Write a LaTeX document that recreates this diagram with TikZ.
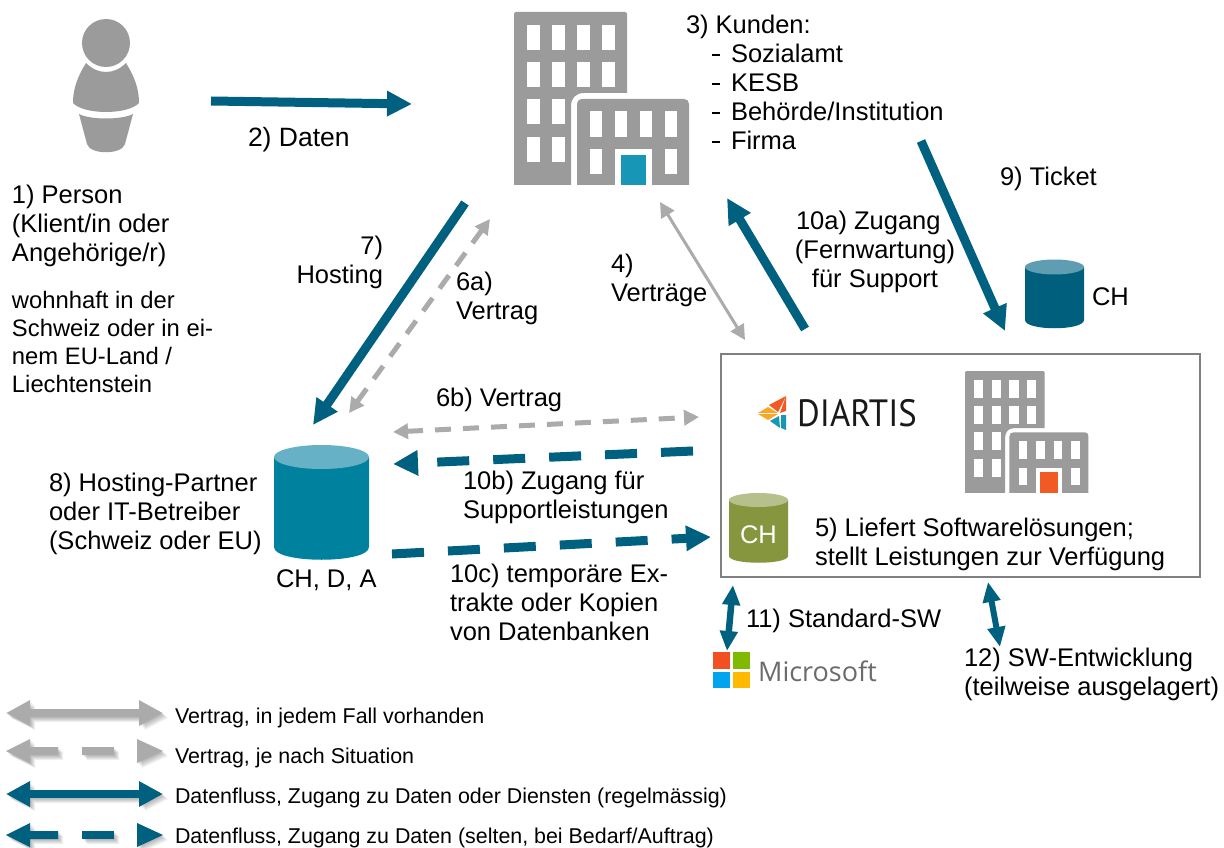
\documentclass[tikz,border=0pt]{standalone}
\usepackage{fontspec}
\setmainfont{Liberation Sans}
\newfontfamily\logofont{PT Sans}
\newfontfamily\msfont{Open Sans}
\usetikzlibrary{arrows.meta}
\definecolor{teal1}{HTML}{00607F}
\definecolor{gray1}{HTML}{ABABAB}
\definecolor{bld}{HTML}{9B9B9B}
\definecolor{dbA}{HTML}{00829F}
\definecolor{dbAt}{HTML}{66B1C6}
\definecolor{dbB}{HTML}{005F7C}
\definecolor{dbBt}{HTML}{5F9DB3}
\definecolor{dbC}{HTML}{86963F}
\definecolor{dbCt}{HTML}{B6C08C}
\definecolor{door1}{HTML}{1797B5}
\definecolor{door2}{HTML}{F15A22}
\definecolor{logoY}{HTML}{F9A825}
\definecolor{msR}{HTML}{F25022}
\definecolor{msG}{HTML}{7FBA00}
\definecolor{msB}{HTML}{00A4EF}
\definecolor{msY}{HTML}{FFB900}
\tikzset{
 x=1pt,y=-1pt,
 lbl/.style={inner sep=0pt,outer sep=0pt,align=left,anchor=north west,yshift=-4pt,font=\fontsize{25.5}{29}\selectfont},
 lblc/.style={inner sep=0pt,outer sep=0pt,align=center,anchor=north,yshift=-4pt,font=\fontsize{25.5}{29}\selectfont},
 lblr/.style={inner sep=0pt,outer sep=0pt,align=right,anchor=north east,yshift=-4pt,font=\fontsize{25.5}{29}\selectfont},
 smalllbl/.style={inner sep=0pt,outer sep=0pt,align=left,anchor=north west,yshift=-3pt,font=\fontsize{23.8}{28}\selectfont},
 leg/.style={inner sep=0pt,outer sep=0pt,anchor=west,yshift=-2pt,font=\fontsize{21.4}{25}\selectfont},
 flow/.style={teal1,line width=9pt,-{Triangle[length=25pt,width=24pt]}},
 flowtwo/.style={teal1,line width=6.5pt,{Triangle[length=20pt,width=17pt]}-{Triangle[length=20pt,width=17pt]}},
 cflow/.style={gray1,line width=#1,{Triangle[length=15pt,width=15pt]}-{Triangle[length=15pt,width=15pt]}},
}
\newcommand{\bldg}[4]{%
\begin{scope}[shift={(#1,#2)},x=#3pt,y=-#3pt]
 \fill[bld] (2,0) -- (111,0) .. controls (112,0) and (113,1) .. (113,2) -- (113,81) -- (70,81) .. controls (62,81) and (57,86) .. (57,94) -- (57,173) -- (0,173) -- (0,2) .. controls (0,1) and (1,0) .. (2,0) -- cycle;
 \foreach \xx in {13,38,63,88}{\foreach \yy in {13,50}{\fill[white] (\xx,\yy) rectangle ++(13,25);}}
 \foreach \xx in {13,38}{\foreach \yy in {87,125}{\fill[white] (\xx,\yy) rectangle ++(13,25);}}
 \fill[bld] (63,173) -- (63,93) .. controls (63,89) and (65,87) .. (69,87) -- (170,87) .. controls (173,87) and (175,89) .. (175,92) -- (175,173) -- cycle;
 \foreach \xx in {76,101,126,151}{\fill[white] (\xx,99) rectangle ++(12,26);}
 \foreach \xx in {76,151}{\fill[white] (\xx,137) rectangle ++(12,25);}
 \fill[white] (101,137) rectangle (138,173);
 \fill[#4] (107,143) rectangle (132,173);
\end{scope}}
\begin{document}
\begin{tikzpicture}
\useasboundingbox (0,0) rectangle (1224,848);
\fill[white] (0,0) rectangle (1224,848);

% person
\fill[bld] (106,43) circle[radius=24];
\fill[bld] (86,63) .. controls (98,75) and (114,75) .. (126,63) .. controls (134,76) and (139,88) .. (139,103)
  .. controls (128,115) and (84,115) .. (73,103) .. controls (73,88) and (78,76) .. (86,63) -- cycle;
\fill[bld] (79,114) .. controls (90,120) and (122,120) .. (133,114) -- (125,144) .. controls (122,155) and (90,155) .. (87,144) -- cycle;

% buildings
\bldg{514}{12}{1}{door1}
\bldg{965}{371}{.705}{door2}

% cylinders
\fill[dbA] (274,457) -- (274,547) .. controls (274,564) and (369,564) .. (369,547) -- (369,457) -- cycle;
\fill[dbAt] (321.5,457) ellipse[x radius=47.5,y radius=12];
\fill[dbB] (1025,267) -- (1025,320) .. controls (1025,331) and (1084,331) .. (1084,320) -- (1084,267) -- cycle;
\fill[dbBt] (1054.5,267) ellipse[x radius=29.5,y radius=7.5];
\fill[dbC] (729,500) -- (729,556) .. controls (729,565) and (788,565) .. (788,556) -- (788,500) -- cycle;
\fill[dbCt] (758.5,500) ellipse[x radius=29.5,y radius=7];

% box
\node[draw=black!50,line width=2.6pt,minimum width=479pt,minimum height=223pt,inner sep=0pt] (diartisbox) at (960.5,465.5) {};

% logo DIARTIS
\fill[door2] (786,396) -- (769,405) -- (778,412) -- cycle;
\fill[door2] (786,396) -- (786,411) -- (780,413) -- cycle;
\fill[logoY] (758,413) -- (768,407) -- (778,413) -- cycle;
\fill[logoY] (758,414) -- (778,414) -- (768,420) -- cycle;
\fill[door1] (786,415) -- (786,430) -- (781,428) -- (781,415) -- cycle;
\fill[door1] (779,416) -- (780,428) -- (770,421) -- cycle;
\node[inner sep=0,font=\logofont\fontsize{38}{38}\selectfont,text=black!90] (diartis) at (857,413) {\scalebox{.915}[1]{DIARTIS}};

% microsoft logo
\fill[msR] (713,652) rectangle (730,669);
\fill[msG] (733,652) rectangle (750,669);
\fill[msB] (713,672) rectangle (730,688);
\fill[msY] (733,672) rectangle (750,688);
\node[inner sep=0,font=\msfont\fontsize{27}{27}\selectfont,text=black!58] (ms) at (817.5,671) {Microsoft};

% connector ends
\coordinate (a2s) at (211,101); \coordinate (a2e) at (412,104);
\coordinate (a7s) at (465,203); \coordinate (a7e) at (313,425);
\coordinate (a6s) at (349,413); \coordinate (a6e) at (490,219);
\coordinate (a4s) at (660,202); \coordinate (a4e) at (745,340);
\coordinate (a10s) at (805,329); \coordinate (a10e) at (727,198);
\coordinate (a9s) at (921,141); \coordinate (a9e) at (1005,331);
\coordinate (a6bs) at (393,432); \coordinate (a6be) at (699,417);
\coordinate (a10bs) at (693,451); \coordinate (a10be) at (393,464);
\coordinate (a10cs) at (392,554); \coordinate (a10ce) at (711,537);
\coordinate (a11s) at (733,585); \coordinate (a11e) at (727,651);
\coordinate (a12s) at (988,582); \coordinate (a12e) at (1000,647);

\draw[flow] (a2s) -- (a2e);
\draw[flow] (a7s) -- (a7e);
\draw[flow] (a10s) -- (a10e);
\draw[flow] (a9s) -- (a9e);
\draw[flow,dash pattern=on 32pt off 24pt] (a10bs) -- (a10be);
\draw[flow,dash pattern=on 32pt off 24pt] (a10cs) -- (a10ce);
\draw[cflow=3pt] (a4s) -- (a4e);
\draw[cflow=5pt,dash pattern=on 16pt off 12pt] (a6s) -- (a6e);
\draw[cflow=5pt,dash pattern=on 16pt off 12pt] (a6bs) -- (a6be);
\draw[flowtwo] (a11s) -- (a11e);
\draw[flowtwo,line width=6pt] (a12s) -- (a12e);

% labels
\node[lbl] (t1) at (12,181) {1) Person\\(Klient/in oder\\Angehörige/r)};
\node[smalllbl] (t1b) at (12,288) {wohnhaft in der\\Schweiz oder in ei-\\nem EU-Land /\\Liechtenstein};
\node[lbl,font=\fontsize{26.5}{29}\selectfont] (t2) at (248,123) {2) Daten};
\node[lbl] (t3) at (686,11) {3) Kunden:};
\node[lbl] (t3b) at (731,40) {Sozialamt\\KESB\\Behörde/Institution\\Firma};
\foreach \yy in {55,84,113,142}{\draw[black,line width=1.2pt] (712,\yy) -- (720,\yy);}
\node[lblr] (t7) at (383,232) {7)\\Hosting};
\node[lbl] (t6a) at (456,268) {6a)\\Vertrag};
\node[lbl] (t4) at (611,250) {4)\\Verträge};
\node[lbl] (t10a) at (796,207) {10a) Zugang};
\node[lblc] (t10a2) at (875,236) {(Fernwartung)\\für Support};
\node[lbl] (t9) at (1000,163) {9) Ticket};
\node[lbl] (tch) at (1092,284) {CH};
\node[lbl] (t6b) at (436,384) {6b) Vertrag};
\node[lbl] (t10b) at (463,467) {10b) Zugang für};
\node[lbl] (t10b2) at (463,496) {Supportleistungen};
\node[lbl] (t8) at (49,469) {8) Hosting-Partner\\oder IT-Betreiber\\(Schweiz oder EU)};
\node[lbl] (tdb) at (276,566) {CH, D, A};
\node[lbl] (t10c) at (450,560) {10c) temporäre Ex-\\trakte oder Kopien\\von Datenbanken};
\node[lbl,text=white] (tch2) at (740,522) {CH};
\node[lbl] (t5) at (815,514) {5) Liefert Softwarelösungen;};
\node[lbl] (t5b) at (815,543) {stellt Leistungen zur Verfügung};
\node[lbl] (t11) at (746,605) {11) Standard-SW};
\node[lbl] (t12) at (964,644) {12) SW-Entwicklung\\(teilweise ausgelagert)};

% legend
\foreach \yy/\dd/\cc in {713/0/gray1,751/1/gray1,794/0/teal1,835/1/teal1}{
  \coordinate (ll) at (6,\yy); \coordinate (lr) at (163,\yy);
  \ifnum\dd=0
   \foreach \oo in {1,2,3,4,5}{\fill[black,opacity=.06,shift={(\oo,\oo)}] (6,\yy) -- (30,\yy-12) -- (30,\yy-4) -- (140,\yy-4) -- (140,\yy-12) -- (163,\yy) -- (140,\yy+12) -- (140,\yy+4) -- (30,\yy+4) -- (30,\yy+12) -- cycle;}
   \draw[\cc,line width=8.5pt,{Triangle[length=24pt,width=24pt]}-{Triangle[length=24pt,width=24pt]}] (ll) -- (lr);
  \else
   \foreach \oo in {1,2,3,4,5}{\fill[black,opacity=.06,shift={(\oo,\oo)}] (6,\yy) -- (30,\yy-12) -- (30,\yy-4) -- (58,\yy-4) -- (58,\yy+4) -- (30,\yy+4) -- (30,\yy+12) -- cycle (82,\yy-4) rectangle (114,\yy+4) (163,\yy) -- (137,\yy-12) -- (137,\yy+12) -- cycle;}
   \fill[\cc] (6,\yy) -- (30,\yy-12) -- (30,\yy-4) -- (58,\yy-4) -- (58,\yy+4) -- (30,\yy+4) -- (30,\yy+12) -- cycle;
   \fill[\cc] (82,\yy-4) rectangle (114,\yy+4);
   \fill[\cc] (163,\yy) -- (137,\yy-12) -- (137,\yy+12) -- cycle;
  \fi
}
\node[leg] (l1) at (175,716) {Vertrag, in jedem Fall vorhanden};
\node[leg] (l2) at (175,756) {Vertrag, je nach Situation};
\node[leg] (l3) at (175,796) {Datenfluss, Zugang zu Daten oder Diensten (regelmässig)};
\node[leg] (l4) at (175,836) {Datenfluss, Zugang zu Daten (selten, bei Bedarf/Auftrag)};
\end{tikzpicture}
\end{document}
